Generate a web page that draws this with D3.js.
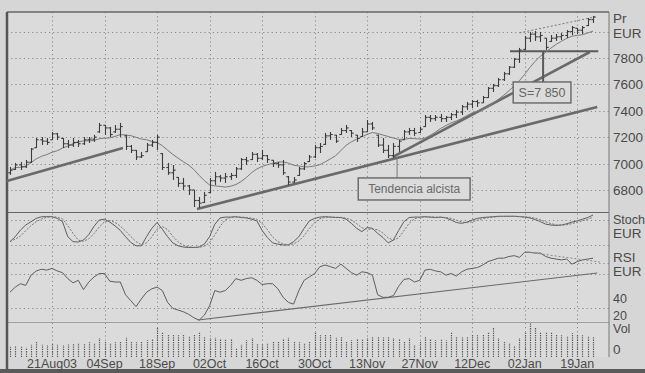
<!DOCTYPE html>
<html><head><meta charset="utf-8">
<script src="https://cdn.jsdelivr.net/npm/d3@7"></script>
<style>
html,body{margin:0;padding:0;background:#d6d6d6;}
svg{display:block;font-family:"Liberation Sans",Arial,sans-serif;}
</style></head><body>
<svg id="c" width="645" height="373"></svg>
<script>
// ---- data (daily bars, index 0 = 11 Aug 2003) ----
const tickIndex = [8,18,28,38,48,58,68,78,88,98,108];
const tickLabels = ["21Aug03","04Sep","18Sep","02Oct","16Oct","30Oct","13Nov","27Nov","12Dec","02Jan","19Jan"];
const priceTicks = [6800,7000,7200,7400,7600,7800];
const priceGrid = [6800,7000,7200,7400,7600,7800,8000];

const high = [6974,7005,7012,7027,7118,7194,7201,7194,7239,7232,
7194,7179,7194,7179,7201,7201,7217,7308,7292,7277,
7292,7308,7217,7141,7103,7088,7156,7179,7217,7080,
7005,6989,6898,6891,6838,6800,6747,6785,6891,6937,
6914,6929,6929,6974,7042,7050,7088,7080,7103,7065,
7027,7012,7027,6906,6898,6974,7012,7065,7141,7156,
7232,7239,7217,7270,7292,7254,7217,7270,7330,7315,
7217,7194,7141,7156,7179,7254,7270,7270,7277,7368,
7368,7368,7376,7360,7383,7406,7444,7467,7482,7482,
7512,7580,7603,7648,7694,7739,7800,7876,7967,7997,
8005,7997,7951,7974,7982,7989,8012,8042,8027,8042,
8103,8118];
const low = [6914,6951,6951,6967,7005,7118,7141,7141,7179,7179,
7118,7118,7126,7126,7141,7156,7164,7232,7217,7201,
7232,7201,7103,7080,7027,7042,7088,7126,7103,6951,
6914,6876,6823,6800,6762,6671,6664,6701,6777,6838,
6861,6853,6876,6891,6951,6989,7027,7012,7027,7005,
6974,6967,6914,6838,6853,6906,6951,7012,7042,7080,
7141,7179,7156,7217,7232,7201,7164,7201,7239,7254,
7126,7080,7042,7042,7088,7179,7217,7209,7232,7277,
7315,7323,7315,7315,7330,7345,7368,7406,7421,7429,
7459,7497,7542,7580,7626,7671,7724,7762,7861,7921,
7929,7921,7861,7921,7929,7936,7951,7974,7982,7982,
8042,8065];
const open = [6930,6955,6990,6975,7010,7120,7180,7170,7180,7225,
7190,7150,7140,7160,7150,7180,7185,7240,7290,7270,
7240,7260,7210,7130,7100,7050,7090,7140,7160,7075,
6970,6930,6895,6850,6830,6800,6720,6705,6780,6870,
6900,6890,6900,6910,6960,7030,7030,7070,7040,7060,
7025,7000,6990,6900,6860,6910,6960,7015,7050,7120,
7145,7210,7215,7220,7250,7250,7215,7205,7240,7300,
7215,7140,7100,7060,7130,7180,7240,7250,7235,7280,
7350,7340,7350,7340,7350,7370,7390,7430,7450,7470,
7460,7500,7570,7590,7635,7680,7730,7790,7865,7950,
7980,7960,7950,7925,7950,7960,7970,8000,8025,8010,
8045,8090];
const close = [6950,6990,6975,7010,7110,7180,7170,7160,7225,7200,
7150,7140,7160,7150,7180,7185,7200,7290,7270,7220,
7260,7280,7130,7100,7050,7060,7140,7160,7200,6970,
6930,6950,6850,6830,6800,6720,6700,6760,6870,6900,
6890,6900,6910,6960,7030,7020,7070,7040,7060,7030,
7000,6990,6930,6860,6875,6960,7000,7050,7120,7130,
7210,7220,7170,7250,7270,7230,7190,7240,7300,7270,
7140,7100,7060,7130,7170,7240,7250,7230,7260,7350,
7340,7350,7340,7350,7370,7390,7430,7450,7470,7460,
7500,7570,7590,7635,7680,7730,7790,7860,7950,7980,
7960,7970,7880,7950,7960,7970,8000,8030,8010,8030,
8090,8110];
const stochK = [28,40,56,68,76,84,88,88,88,84,
76,40,28,27,32,45,65,80,82,75,
66,55,40,26,18,18,40,60,74,58,
40,25,18,15,14,14,15,22,40,70,
85,87,87,88,86,85,82,78,55,38,
25,22,20,20,28,40,60,78,84,87,
88,87,86,86,82,72,60,52,62,60,
48,38,25,32,55,76,86,87,87,88,
87,86,87,85,80,74,72,75,80,84,
86,87,88,89,89,89,89,88,87,85,
81,76,70,68,67,68,71,75,78,82,
86,92];
const rsi = [48,54,58,56,68,73,75,74,76,73,
71,64,59,62,51,60,66,70,70,61,
60,60,45,38,31,40,48,52,54,50,
36,29,27,25,22,18,15,21,32,50,
48,50,56,64,62,64,65,62,57,58,
58,52,42,36,34,50,62,66,70,78,
80,78,76,81,76,71,68,72,71,68,
45,42,42,44,55,63,64,60,62,74,
75,73,72,68,70,67,72,75,76,77,
80,84,86,88,88,90,91,89,95,95,
94,94,90,88,87,86,87,81,84,86,
87,88];
const volume = [29,30,29,27,35,43,35,34,40,35,
34,36,38,40,38,42,40,54,45,40,
42,43,55,44,42,45,48,50,83,72,
63,65,62,64,60,66,69,57,54,55,
50,49,50,26,35,48,54,38,36,40,
43,44,53,55,43,42,40,45,70,62,
63,65,55,57,43,48,50,49,54,57,
58,56,57,54,52,43,54,34,43,57,
50,48,49,47,70,57,56,58,63,62,
64,69,83,54,43,40,30,54,69,97,
83,72,70,72,65,62,60,68,63,62,
60,58];
const stochGrid = [20,80];
const rsiGrid = [30,70,82];
const rsiTicks = [40,20];

// annotations in data units [index, price]
const trendA = [[-0.6,6868],[21.5,7118]];
const trendB = [[35.6,6656],[111.8,7429]];
const trendC = [[72.9,7050],[110.4,7845]];
const channelTop = [[97,7990],[111.3,8110]];
const supportLevel = 7850;
const supportSpan = [95.2,112];
const rsiTrend = [[35.8,15.3],[111.8,70.6]];
const rsiTrend2 = [[98.4,95.3],[112.3,83.5]];

// ---- helpers ----
function sma(arr, n){ return arr.map((_,i)=>d3.mean(arr.slice(Math.max(0,i-n+1), i+1))); }
const ma10 = sma(close,10);
const stochD = sma(stochK,3);

const svg = d3.select("#c");
const L=7, R=609, T=12;
const x = d3.scaleLinear().domain([0,111]).range([10,593]);
const yP = d3.scaleLinear().domain([6633,8148]).range([212,12]);
const yS = d3.scaleLinear().domain([0,100]).range([253.3,211.7]);
const yR = d3.scaleLinear().domain([0,100]).range([333,248]);
const yV = d3.scaleLinear().domain([0,100]).range([357,322]);

const ink="#3c3c3c", grid="#8a8a8a", txt="#4a4a4a";

// plot background
svg.append("rect").attr("x",L).attr("y",T).attr("width",R-L).attr("height",357-T).attr("fill","#dbdbdb");

// grids
const g = svg.append("g").attr("stroke",grid).attr("stroke-width",1).attr("stroke-dasharray","1.2,3");
g.selectAll(".pg").data(priceGrid).join("line").attr("x1",L).attr("x2",R).attr("y1",d=>Math.round(yP(d))+0.5).attr("y2",d=>Math.round(yP(d))+0.5);
g.selectAll(".sg").data(stochGrid).join("line").attr("x1",L).attr("x2",R).attr("y1",d=>Math.round(yS(d))+0.5).attr("y2",d=>Math.round(yS(d))+0.5);
g.selectAll(".rg").data(rsiGrid).join("line").attr("x1",L).attr("x2",R).attr("y1",d=>Math.round(yR(d))+0.5).attr("y2",d=>Math.round(yR(d))+0.5);
g.selectAll(".vg").data(tickIndex).join("line").attr("y1",T).attr("y2",357).attr("x1",d=>Math.round(x(d))+0.5).attr("x2",d=>Math.round(x(d))+0.5);

// pane separators
svg.append("line").attr("x1",L).attr("x2",R).attr("y1",212.5).attr("y2",212.5).attr("stroke","#666").attr("stroke-width",1.2);
svg.append("line").attr("x1",L).attr("x2",R).attr("y1",322.5).attr("y2",322.5).attr("stroke","#a0a0a0").attr("stroke-width",1);

// frame
svg.append("line").attr("x1",L).attr("x2",R).attr("y1",T).attr("y2",T).attr("stroke","#666").attr("stroke-width",1.3);
svg.append("line").attr("x1",R).attr("x2",R).attr("y1",T).attr("y2",357).attr("stroke","#777").attr("stroke-width",1);
svg.append("line").attr("x1",L).attr("x2",L).attr("y1",T).attr("y2",372).attr("stroke","#555").attr("stroke-width",2.5);
svg.append("rect").attr("x",0).attr("y",369).attr("width",645).attr("height",4).attr("fill","#5a5a5a");

// volume bars
svg.append("g").selectAll("line").data(volume).join("line")
  .attr("x1",(d,i)=>Math.round(x(i))+0.5).attr("x2",(d,i)=>Math.round(x(i))+0.5).attr("y1",yV(0)).attr("y2",d=>yV(d))
  .attr("stroke","#5a5a5a").attr("stroke-width",1.2).attr("stroke-dasharray","1.3,1");

// trend lines (price)
const lineP = d3.line().x(d=>x(d[0])).y(d=>yP(d[1]));
[trendA,trendB,trendC].forEach(t=>svg.append("path").attr("d",lineP(t)).attr("fill","none").attr("stroke","#6a6a6a").attr("stroke-width",2.6));
svg.append("path").attr("d",lineP(channelTop)).attr("fill","none").attr("stroke","#777").attr("stroke-width",1).attr("stroke-dasharray","2,2");
svg.append("line").attr("x1",x(supportSpan[0])).attr("x2",x(supportSpan[1])).attr("y1",yP(supportLevel)).attr("y2",yP(supportLevel)).attr("stroke","#5a5a5a").attr("stroke-width",2);

// moving average
svg.append("path").attr("d",d3.line().x((d,i)=>x(i)).y(d=>yP(d))(ma10)).attr("fill","none").attr("stroke","#7a7a7a").attr("stroke-width",1);

// OHLC bars
const bars = svg.append("g").attr("stroke",ink).attr("stroke-width",1.1);
close.forEach((c,i)=>{
  const xi = Math.round(x(i))+0.5;
  bars.append("line").attr("x1",xi).attr("x2",xi).attr("y1",yP(high[i])).attr("y2",yP(low[i]));
  bars.append("line").attr("x1",xi-2.2).attr("x2",xi).attr("y1",yP(open[i])).attr("y2",yP(open[i]));
  bars.append("line").attr("x1",xi).attr("x2",xi+2.2).attr("y1",yP(c)).attr("y2",yP(c));
});

// annotation: S=7 850 box and connector
const sx = x(101.5);
svg.append("line").attr("x1",sx).attr("x2",sx).attr("y1",yP(supportLevel)).attr("y2",82).attr("stroke","#5a5a5a").attr("stroke-width",2);
svg.append("rect").attr("x",x(95.8)).attr("y",yP(7618)).attr("width",x(106.8)-x(95.8)).attr("height",yP(7459)-yP(7618))
  .attr("fill","#dbdbdb").attr("stroke","#666").attr("stroke-width",1.4);
svg.append("text").attr("x",(x(95.8)+x(106.8))/2).attr("y",(yP(7618)+yP(7459))/2+4.5).attr("text-anchor","middle")
  .attr("font-size",12.5).attr("fill","#666").text("S=7 850");

// annotation: Tendencia alcista
const tx = x(73.7);
svg.append("line").attr("x1",tx).attr("x2",tx).attr("y1",yP(7050)).attr("y2",yP(6891)).attr("stroke","#777").attr("stroke-width",1);
svg.append("rect").attr("x",x(66.3)).attr("y",yP(6891)).attr("width",x(87.6)-x(66.3)).attr("height",yP(6724)-yP(6891))
  .attr("fill","#dbdbdb").attr("stroke","#666").attr("stroke-width",1.4);
svg.append("text").attr("x",(x(66.3)+x(87.6))/2).attr("y",(yP(6891)+yP(6724))/2+4.5).attr("text-anchor","middle")
  .attr("font-size",12).attr("fill","#6a6a6a").text("Tendencia alcista");

// stochastic
svg.append("path").attr("d",d3.line().x((d,i)=>x(i)).y(d=>yS(d))(stochK)).attr("fill","none").attr("stroke","#5e5e5e").attr("stroke-width",1);
svg.append("path").attr("d",d3.line().x((d,i)=>x(i)).y(d=>yS(d))(stochD)).attr("fill","none").attr("stroke","#777").attr("stroke-width",1).attr("stroke-dasharray","2,1.5");

// RSI
svg.append("path").attr("d",d3.line().x((d,i)=>x(i)).y(d=>yR(d))(rsi)).attr("fill","none").attr("stroke","#5e5e5e").attr("stroke-width",1);
const lineR = d3.line().x(d=>x(d[0])).y(d=>yR(d[1]));
svg.append("path").attr("d",lineR(rsiTrend)).attr("fill","none").attr("stroke","#6a6a6a").attr("stroke-width",1.1);
svg.append("path").attr("d",lineR(rsiTrend2)).attr("fill","none").attr("stroke","#888").attr("stroke-width",1).attr("stroke-dasharray","2,2");

// x axis labels
svg.append("g").selectAll("text").data(tickIndex).join("text")
  .attr("x",d=>x(d)).attr("y",368).attr("text-anchor","middle").attr("font-size",12.5).attr("fill",txt)
  .text((d,i)=>tickLabels[i]);

// right axis
const rx = 613;
const ra = svg.append("g").attr("fill",txt).attr("font-size",13.5);
ra.selectAll(".pt").data(priceTicks).join("text").attr("x",rx).attr("y",d=>yP(d)+5).text(d=>d);
ra.append("text").attr("x",rx).attr("y",23).text("Pr");
ra.append("text").attr("x",rx).attr("y",38).text("EUR");
ra.append("text").attr("x",rx).attr("y",yS(80)+4).attr("font-size",12.5).text("Stoch");
ra.append("text").attr("x",rx).attr("y",238).text("EUR");
ra.append("text").attr("x",rx).attr("y",262).text("RSI");
ra.append("text").attr("x",rx).attr("y",276).text("EUR");
ra.selectAll(".rt").data(rsiTicks).join("text").attr("x",rx).attr("y",d=>yR(d)+4).attr("font-size",12.5).text(d=>d);
ra.append("text").attr("x",rx).attr("y",333).attr("font-size",12.5).text("Vol");
ra.append("text").attr("x",rx).attr("y",yV(0)-3).text("0");
</script>
</body></html>
